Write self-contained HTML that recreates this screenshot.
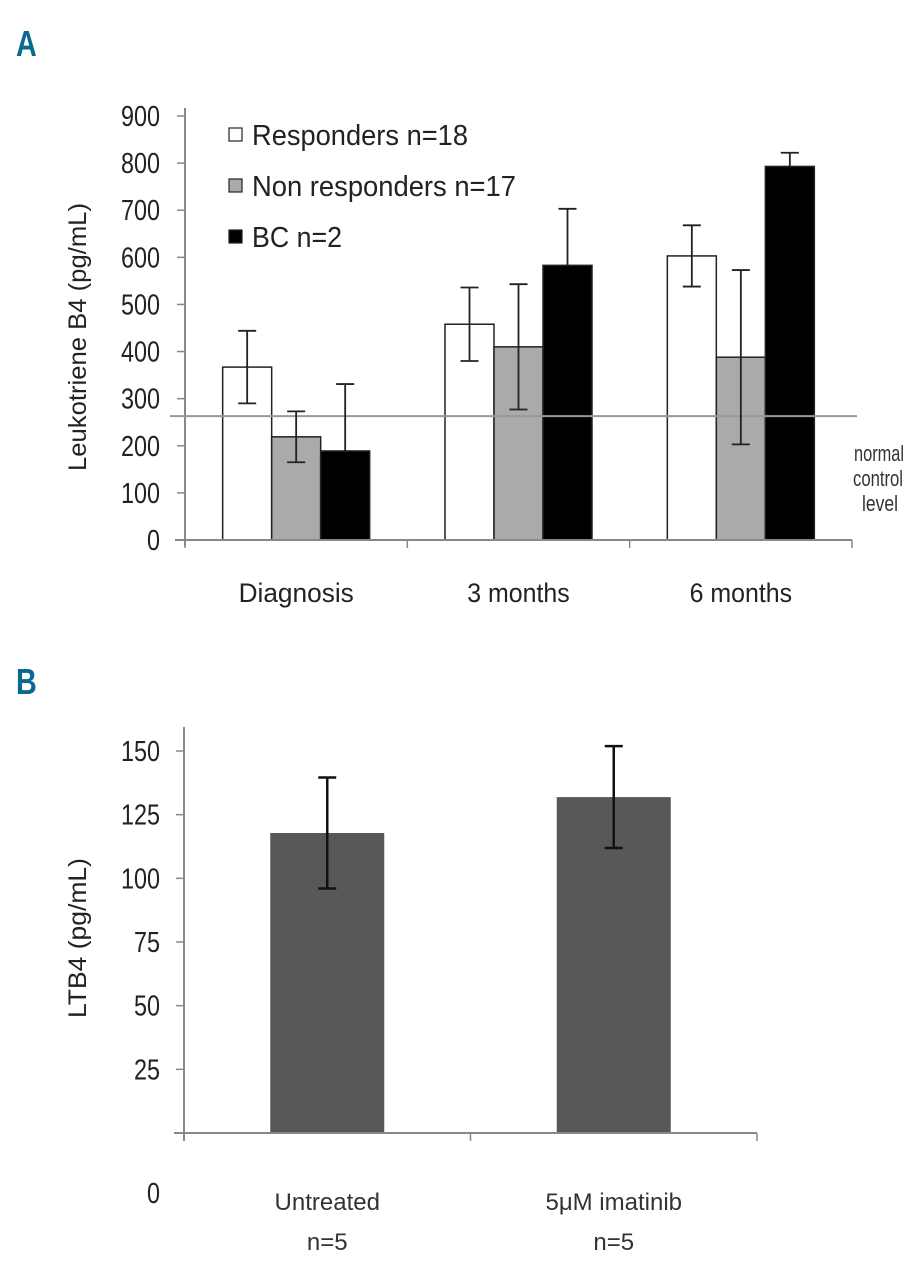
<!DOCTYPE html>
<html><head><meta charset="utf-8"><style>
body{margin:0;background:#fff;}
svg{display:block;font-family:"Liberation Sans",sans-serif;}
</style></head><body>
<svg id="fig" width="920" height="1280" viewBox="0 0 920 1280" xmlns="http://www.w3.org/2000/svg">
<text x="16" y="56" font-size="36" font-weight="bold" fill="#0b6890" transform="scale(0.8,1)" style="transform-origin:16px 56px">A</text>
<text x="16" y="694" font-size="36" font-weight="bold" fill="#0b6890" transform="scale(0.8,1)" style="transform-origin:16px 694px">B</text>
<g id="chartA"></g>
<g id="chartB"></g>
</svg>
<script>
const NS="http://www.w3.org/2000/svg";
// Chart A data
const catsA=["Diagnosis","3 months","6 months"];
const seriesNames=["Responders n=18","Non responders n=17","BC n=2"];
const responders=[367,458,603];
const nonResponders=[219,410,388];
const bc=[189,583,793];
const respErr=[77,78,65];
const nonRespErr=[54,133,185];
const bcErr=[142,120,29];
const ticksA=[0,100,200,300,400,500,600,700,800,900];
const normalLevel=263;
// Chart B data
const catsB=["Untreated|n=5","5\u03bcM imatinib|n=5"];
const valuesB=[117.8,131.9];
const errB=[21.8,20];
const ticksB=[0,25,50,75,100,125,150];

function el(tag,attrs,parent,text){const e=document.createElementNS(NS,tag);for(const k in attrs)e.setAttribute(k,attrs[k]);if(text!==undefined)e.textContent=text;parent.appendChild(e);return e;}

// ---- Chart A ----
const gA=document.getElementById('chartA');
const ax0=185, ax1=852, ay0=540, ayTop=116;
const yA=v=>ay0-(v/900)*(ay0-ayTop);
const catW=(ax1-ax0)/catsA.length;
const xA=i=>ax0+catW*i+catW/2;
const barW=49;
let e;
e=el('line',{x1:ax0,y1:ayTop-8,x2:ax0,y2:ay0+6,stroke:'#888','stroke-width':2},gA);

ticksA.forEach(t=>{
 e=el('line',{x1:ax0-8,y1:yA(t),x2:ax0,y2:yA(t),stroke:'#888','stroke-width':1.5},gA);
 
 e=el('text',{x:160,y:yA(t)+10,'font-size':29,'text-anchor':'end',fill:'#222',textLength:String(t).length*13,lengthAdjust:'spacingAndGlyphs'},gA,String(t));
 
});
e=el('text',{x:0,y:0,'font-size':25,'text-anchor':'middle',fill:'#222',transform:'translate(86,337) rotate(-90)',textLength:268,lengthAdjust:'spacingAndGlyphs'},gA,'Leukotriene B4 (pg/mL)');

const series=[responders,nonResponders,bc];
const errs=[respErr,nonRespErr,bcErr];
const fills=['#fff','#aaa','#000'];
catsA.forEach((c,i)=>{
 series.forEach((s,j)=>{
  const x=xA(i)+(j-1.5)*barW;
  e=el('rect',{x:x,y:yA(s[i]),width:barW,height:ay0-yA(s[i]),fill:fills[j],stroke:'#222','stroke-width':1.5},gA);
  
 });
});
e=el('line',{x1:170,y1:yA(normalLevel),x2:857,y2:yA(normalLevel),stroke:'#999','stroke-width':2},gA);

catsA.forEach((c,i)=>{
 series.forEach((s,j)=>{
  const cx=xA(i)+(j-1)*barW;
  const hi=s[i]+errs[j][i], lo=s[i]-errs[j][i];
  const d=j===2?`M${cx},${yA(hi)}V${yA(s[i])}M${cx-9},${yA(hi)}H${cx+9}`:`M${cx},${yA(hi)}V${yA(lo)}M${cx-9},${yA(hi)}H${cx+9}M${cx-9},${yA(lo)}H${cx+9}`;
  e=el('path',{d:d,stroke:'#222','stroke-width':1.8,fill:'none'},gA);
  
 });
 e=el('text',{x:xA(i),y:602,'font-size':27,'text-anchor':'middle',fill:'#222',textLength:c.length*12.8,lengthAdjust:'spacingAndGlyphs'},gA,c);
 
});
e=el('line',{x1:ax0-10,y1:ay0,x2:ax1,y2:ay0,stroke:'#888','stroke-width':2},gA);

for(let i=0;i<=catsA.length;i++){e=el('line',{x1:ax0+catW*i,y1:ay0,x2:ax0+catW*i,y2:ay0+8,stroke:'#888','stroke-width':1.5},gA);
 }
['normal','control','level'].forEach((t,k)=>{e=el('text',{x:[854,853,862][k],y:461+k*25,'font-size':22,fill:'#333',textLength:[50,50,36][k],lengthAdjust:'spacingAndGlyphs'},gA,t);
 });
seriesNames.forEach((n,j)=>{
 const ly=134+j*51;
 e=el('rect',{x:229,y:ly-6,width:13,height:13,fill:fills[j],stroke:'#222','stroke-width':1.2},gA);
 
 e=el('text',{x:252,y:ly+11,'font-size':29,fill:'#222',textLength:[216,264,90][j],lengthAdjust:'spacingAndGlyphs'},gA,n);
 
});

// ---- Chart B ----
const gB=document.getElementById('chartB');
const bx0=184,bx1=757,by0=1133,byTop=751;
const yB=v=>by0-(v/150)*(by0-byTop);
const catWB=(bx1-bx0)/catsB.length;
const xB=i=>bx0+catWB*i+catWB/2;
e=el('line',{x1:bx0,y1:727,x2:bx0,y2:by0+8,stroke:'#888','stroke-width':2},gB);

ticksB.forEach(t=>{
 if(t>0){e=el('line',{x1:bx0-8,y1:yB(t),x2:bx0,y2:yB(t),stroke:'#888','stroke-width':1.5},gB);
 }
 const yy=t===0?by0+70:yB(t)+10;
 e=el('text',{x:160,y:yy,'font-size':29,'text-anchor':'end',fill:'#222',textLength:String(t).length*13,lengthAdjust:'spacingAndGlyphs'},gB,String(t));
 
});
e=el('text',{x:0,y:0,'font-size':25,'text-anchor':'middle',fill:'#222',transform:'translate(86,938) rotate(-90)',textLength:160,lengthAdjust:'spacingAndGlyphs'},gB,'LTB4 (pg/mL)');

catsB.forEach((c,i)=>{
 const w=114;
 e=el('rect',{x:xB(i)-w/2,y:yB(valuesB[i]),width:w,height:by0-yB(valuesB[i]),fill:'#585858'},gB);
 
 const cx=xB(i),hi=valuesB[i]+errB[i],lo=valuesB[i]-errB[i];
 e=el('path',{d:`M${cx},${yB(hi)}V${yB(lo)}M${cx-9},${yB(hi)}H${cx+9}M${cx-9},${yB(lo)}H${cx+9}`,stroke:'#111','stroke-width':2.5,fill:'none'},gB);
 
 c.split('|').forEach((t,k)=>{e=el('text',{x:cx,y:1210+k*40,'font-size':24,'text-anchor':'middle',fill:'#333'},gB,t);
  });
});
e=el('line',{x1:bx0-10,y1:by0,x2:bx1,y2:by0,stroke:'#888','stroke-width':2},gB);

for(let i=1;i<=catsB.length;i++){e=el('line',{x1:bx0+catWB*i,y1:by0,x2:bx0+catWB*i,y2:by0+8,stroke:'#888','stroke-width':1.5},gB);
 }
</script>
</body></html>
